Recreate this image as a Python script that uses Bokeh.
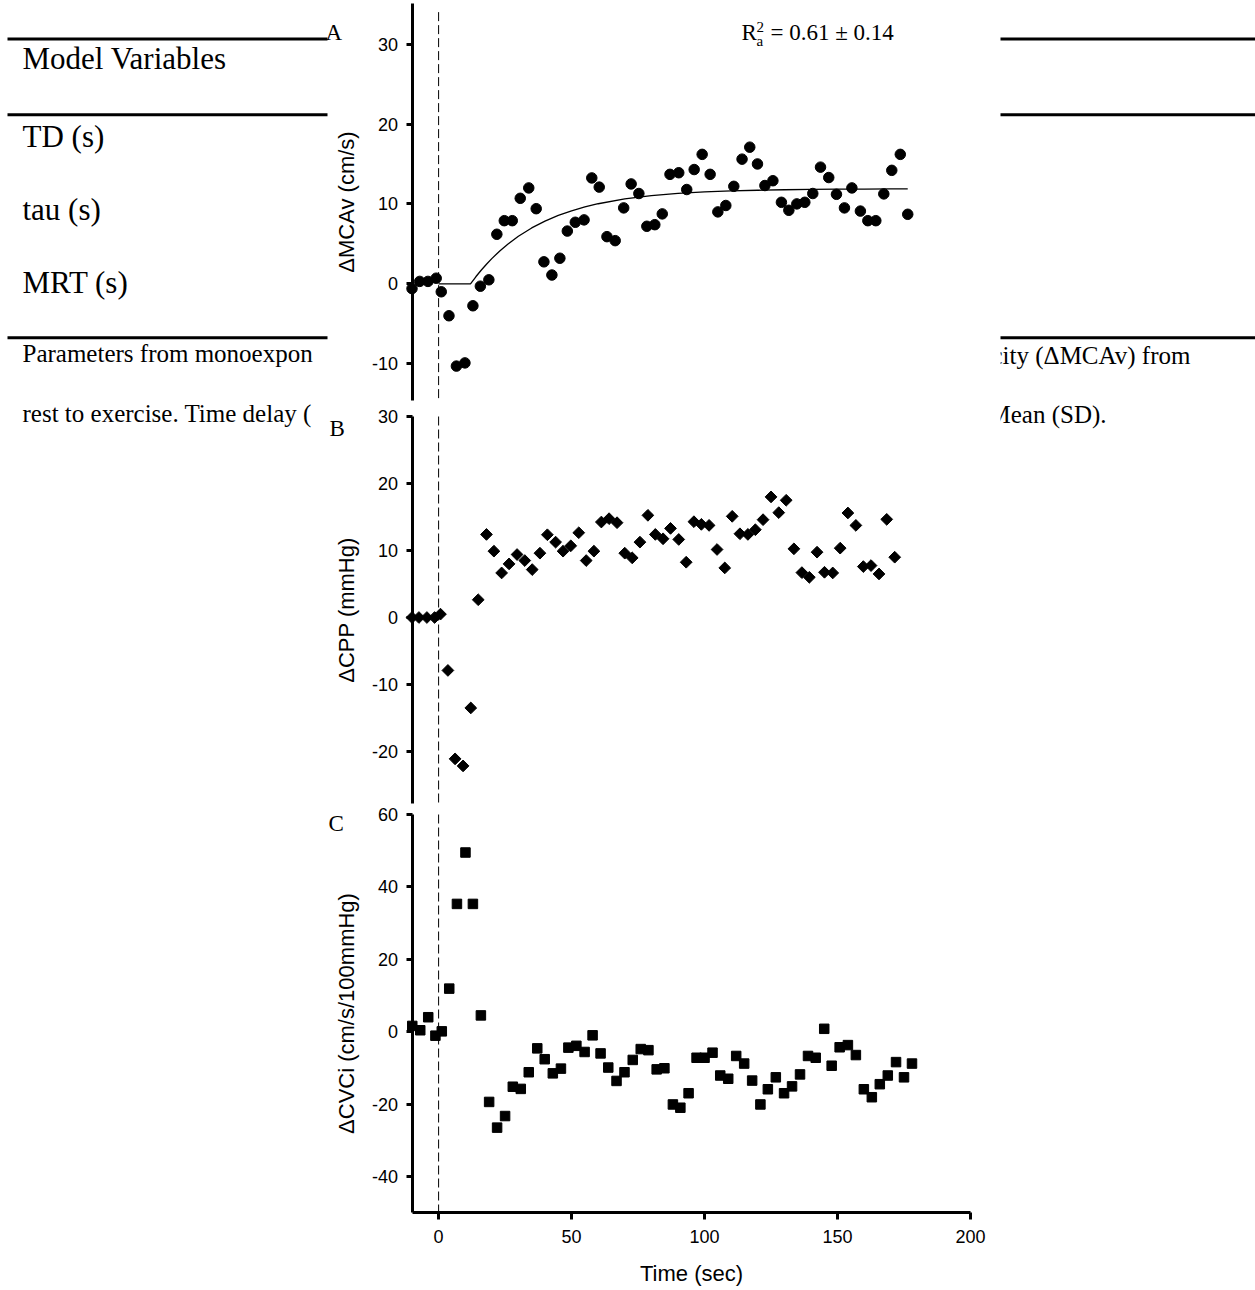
import numpy as np
from bokeh.plotting import figure
from bokeh.models import Range1d, LinearAxis, FixedTicker
from bokeh.core.properties import value
from bokeh.embed import file_html
from bokeh.resources import INLINE

# ---------------- data ----------------
# Panel A: change in middle cerebral artery velocity (cm/s)
time_a = [-10, -7.1, -4, -0.9, 1, 3.9, 6.7, 9.9, 12.9, 15.7, 18.9, 21.9, 24.7, 27.7,
          30.7, 33.9, 36.7, 39.6, 42.6, 45.6, 48.4, 51.4, 54.7, 57.6, 60.4, 63.3, 66.4,
          69.6, 72.4, 75.3, 78.3, 81.3, 84.1, 87, 90.3, 93.3, 96.1, 99.1, 102.1, 105,
          108, 111, 114.1, 117, 119.9, 122.7, 125.7, 128.9, 131.7, 134.7, 137.7, 140.7,
          143.6, 146.7, 149.6, 152.6, 155.4, 158.6, 161.4, 164.4, 167.4, 170.4, 173.6, 176.4]
mcav = [-0.6, 0.3, 0.3, 0.7, -1.0, -4.0, -10.3, -9.9, -2.75, -0.3, 0.5, 6.2, 7.9, 7.9,
        10.7, 12.0, 9.4, 2.75, 1.1, 3.2, 6.6, 7.7, 8.0, 13.25, 12.1, 5.9, 5.4, 9.5, 12.5,
        11.3, 7.2, 7.4, 8.75, 13.7, 13.9, 11.8, 14.3, 16.2, 13.7, 9.0, 9.8, 12.2, 15.6,
        17.1, 15.0, 12.3, 12.9, 10.2, 9.2, 10.0, 10.2, 11.3, 14.6, 13.3, 11.2, 9.5, 12.0,
        9.1, 7.9, 7.9, 11.25, 14.2, 16.2, 8.7]
# monoexponential fit line
fit_time = [0, 12, 14, 16, 18, 20, 23, 26, 30, 35, 40, 45, 50, 55, 60, 70, 80, 90, 100,
            110, 120, 130, 140, 150, 160, 170, 176.4]
fit_mcav = [0, 0, 0.88, 1.70, 2.45, 3.15, 4.11, 4.96, 5.95, 6.99, 7.85, 8.56, 9.14, 9.62,
            10.02, 10.62, 11.03, 11.31, 11.50, 11.63, 11.71, 11.77, 11.81, 11.84, 11.86,
            11.87, 11.88]

# Panel B: change in cerebral perfusion pressure (mmHg)
time_b = [-10, -7.4, -4.4, -1.5, 0.7, 3.5, 6.2, 9.2, 12.1, 14.9, 18, 20.8, 23.7, 26.5,
          29.5, 32.4, 35.2, 38.1, 40.9, 44, 46.8, 49.7, 52.7, 55.5, 58.4, 61.2, 64.1,
          67.1, 70, 72.8, 75.7, 78.7, 81.5, 84.4, 87.2, 90.3, 93.1, 96, 98.8, 101.7,
          104.7, 107.6, 110.4, 113.3, 116.3, 119.1, 122, 125, 127.9, 130.7, 133.6, 136.6,
          139.4, 142.3, 145.1, 148.2, 151, 153.9, 156.9, 159.7, 162.6, 165.6, 168.5, 171.5]
cpp = [0, 0, 0, 0, 0.5, -7.9, -21.1, -22.15, -13.5, 2.65, 12.4, 9.9, 6.65, 8.0, 9.4, 8.5,
       7.15, 9.6, 12.35, 11.25, 9.9, 10.7, 12.65, 8.5, 9.9, 14.25, 14.75, 14.15, 9.6, 8.9,
       11.25, 15.25, 12.4, 11.75, 13.3, 11.65, 8.25, 14.3, 13.9, 13.75, 10.15, 7.4, 15.1,
       12.5, 12.4, 13.1, 14.6, 18.0, 15.65, 17.5, 10.25, 6.7, 6.0, 9.75, 6.75, 6.65, 10.35,
       15.6, 13.75, 7.6, 7.75, 6.5, 14.65, 9.0]

# Panel C: change in cerebrovascular conductance index (cm/s/100mmHg)
time_c = [-9.9, -6.9, -3.9, -1.2, 1.2, 4.0, 6.9, 10.1, 12.9, 15.9, 19, 22, 25, 27.9,
          30.9, 33.9, 37.1, 39.9, 42.95, 46, 48.8, 51.8, 54.9, 57.9, 60.9, 63.8, 66.9,
          69.9, 73, 76, 78.9, 82, 84.9, 88.1, 90.9, 94, 97, 100, 103, 105.9, 108.9, 111.9,
          114.9, 117.9, 121, 123.8, 126.8, 129.9, 132.9, 135.9, 138.9, 141.8, 145, 147.8,
          150.8, 153.9, 156.9, 159.9, 162.9, 165.9, 168.9, 172, 175, 178]
cvci = [1.6, 0.4, 4.0, -1.1, 0.1, 11.9, 35.3, 49.5, 35.3, 4.5, -19.4, -26.5, -23.3, -15.2,
        -15.8, -11.2, -4.6, -7.6, -11.5, -10.2, -4.4, -3.9, -5.6, -1.0, -6.0, -9.9, -13.6,
        -11.2, -7.8, -4.8, -5.1, -10.4, -10.1, -20.1, -21.0, -17.0, -7.2, -7.2, -5.8,
        -12.1, -13.0, -6.7, -8.8, -13.5, -20.1, -15.9, -12.6, -17.0, -15.1, -11.8, -6.7,
        -7.2, 0.8, -9.4, -4.3, -3.7, -6.45, -15.9, -18.1, -14.5, -12.1, -8.4, -12.6, -8.8]

x_ticks = [0, 50, 100, 150, 200]
a_ticks = [-10, 0, 10, 20, 30]
b_ticks = [-20, -10, 0, 10, 20, 30]
c_ticks = [-40, -20, 0, 20, 40, 60]
exercise_onset = [0]

table_rows = ["Model Variables", "TD (s)", "tau (s)", "MRT (s)"]
caption_left = ["Parameters from monoexpon", "rest to exercise. Time delay ("]
caption_right = ["city (\u0394MCAv) from", "Mean (SD)."]
panel_letters = ["A", "B", "C"]

# ---------------- page / layout ----------------
W, H = 1255, 1290
SERIF = "Liberation Serif"
SANS = "Liberation Sans"

p = figure(width=W, height=H, x_range=Range1d(0, W), y_range=Range1d(H, 0),
           x_axis_type=None, y_axis_type=None, toolbar_location=None,
           output_backend="svg", min_border=0, outline_line_color=None,
           background_fill_color="white", border_fill_color="white")


def xrange_from(px0, k):
    return Range1d(-px0 / k, (W - px0) / k)


def yrange_from(px0, k):
    return Range1d((px0 - H) / k, px0 / k)


p.extra_x_ranges = {"t": xrange_from(438.1, 2.6595)}
p.extra_y_ranges = {
    "yA": yrange_from(283.3, 7.99),
    "yB": yrange_from(617.0, 6.70),
    "yC": yrange_from(1031.2, 3.62),
}


def page_text(xs, ys, texts, size, font=SERIF):
    p.text(x=xs, y=ys, text=texts, text_font=value(font), text_font_size=size,
           text_baseline="middle", text_align="left", text_color="black")


# ---- background table (partly covered by the figure) ----
rule_y = [38.5, 114.3, 337.3]
p.segment(x0=[7] * 3, x1=[W] * 3, y0=rule_y, y1=rule_y, line_color="black", line_width=3)
page_text([22] * 4, [58.0, 135.5, 209.0, 282.0], table_rows, "31px")
page_text([22, 22], [353, 413], caption_left, "25px")
page_text([991, 988], [355, 414], caption_right, "25px")

# white sheet of the pasted figure
p.quad(left=[327], right=[1000], top=[0], bottom=[H], fill_color="white", line_color=None)

# ---- panel letters and R^2 ----
page_text([325, 329, 328], [31.5, 428, 823], panel_letters, "23px")
page_text([741], [31.5], ["R"], "23px")
page_text([756], [26.5], ["2"], "15px")
page_text([756], [40], ["a"], "15px")
page_text([770], [31.5], ["= 0.61 \u00b1 0.14"], "23px")

# ---- axes ----
a_bounds = (-14.6, 35.1)
b_bounds = (-27.8, 30)
c_bounds = (-50, 60)


def style_axis(ax, ticks):
    ax.axis_line_width = 3
    ax.axis_line_color = "black"
    ax.major_tick_line_width = 3
    ax.major_tick_line_color = "black"
    ax.major_tick_in = 0
    ax.major_tick_out = 6
    ax.minor_tick_in = 0
    ax.minor_tick_out = 0
    ax.major_label_text_font = SANS
    ax.major_label_text_font_size = "18px"
    ax.major_label_text_color = "black"
    ax.major_label_overrides = {t: str(t) for t in ticks}
    ax.axis_label_text_font = SANS
    ax.axis_label_text_font_size = "22px"
    ax.axis_label_text_font_style = "normal"
    ax.axis_label_text_color = "black"


for rname, bounds, ticks, label in [("yA", a_bounds, a_ticks, "\u0394MCAv (cm/s)"),
                                    ("yB", b_bounds, b_ticks, "\u0394CPP (mmHg)"),
                                    ("yC", c_bounds, c_ticks, "\u0394CVCi (cm/s/100mmHg)")]:
    ax = LinearAxis(x_range_name="t", y_range_name=rname, fixed_location=-10,
                    bounds=bounds, ticker=FixedTicker(ticks=ticks), axis_label=label)
    style_axis(ax, ticks)
    ax.major_label_standoff = 8
    ax.axis_label_standoff = 10
    p.add_layout(ax, "left")

xax = LinearAxis(x_range_name="t", y_range_name="yC", fixed_location=-50,
                 bounds=(-10, 200), ticker=FixedTicker(ticks=x_ticks),
                 axis_label="Time (sec)")
style_axis(xax, x_ticks)
xax.major_tick_out = 7
xax.major_label_standoff = 10
xax.axis_label_standoff = 15
p.add_layout(xax, "below")

# ---- exercise onset dashed lines ----
for rname, (lo, hi) in [("yA", (a_bounds[0], 34)), ("yB", b_bounds), ("yC", c_bounds)]:
    p.segment(x0=exercise_onset, x1=exercise_onset, y0=[hi], y1=[lo],
              x_range_name="t", y_range_name=rname,
              line_color="black", line_width=1, line_dash="9 4")

# ---- data ----
p.line(fit_time, fit_mcav, x_range_name="t", y_range_name="yA",
       line_color="black", line_width=1.3)
p.scatter(time_a, mcav, marker="circle", size=10.5, color="black",
          x_range_name="t", y_range_name="yA")
p.scatter(time_b, cpp, marker="square", angle=np.pi / 4, size=8.3, color="black",
          x_range_name="t", y_range_name="yB")
p.scatter(time_c, cvci, marker="square", size=9.5, color="black",
          x_range_name="t", y_range_name="yC")

open("out.html", "w").write(file_html(p, INLINE))
